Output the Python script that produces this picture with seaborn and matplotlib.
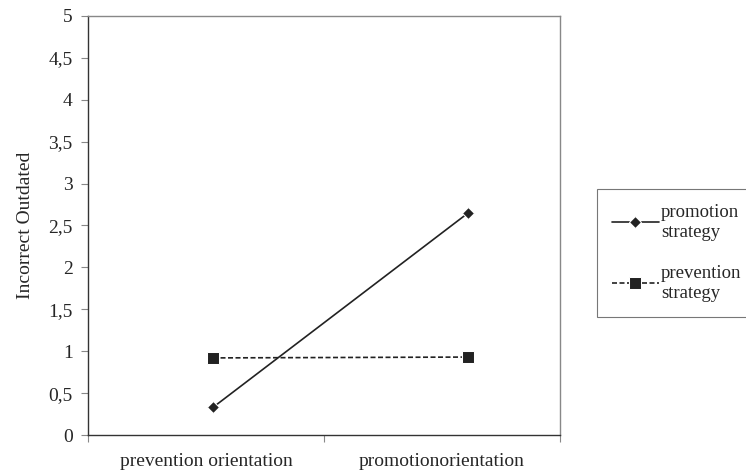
import matplotlib
matplotlib.use("Agg")
import matplotlib.pyplot as plt
import seaborn as sns
import pandas as pd
from matplotlib.ticker import FixedLocator

categories = ["prevention orientation", "promotionorientation"]
promotion_strategy = [0.33, 2.65]
prevention_strategy = [0.92, 0.93]
series_names = ["promotion\nstrategy", "prevention\nstrategy"]
yticks = [0, 0.5, 1, 1.5, 2, 2.5, 3, 3.5, 4, 4.5, 5]
ytick_labels = ["0", "0,5", "1", "1,5", "2", "2,5", "3", "3,5", "4", "4,5", "5"]

df = pd.DataFrame({
    "x": list(range(len(categories))) * 2,
    "y": promotion_strategy + prevention_strategy,
    "series": [series_names[0]] * 2 + [series_names[1]] * 2,
})

sns.set_style("white")
plt.rcParams["font.family"] = ["Liberation Serif", "DejaVu Serif"]

FS = 14

fig = plt.figure(figsize=(7.46, 4.73), dpi=100)
ax = fig.add_axes([88 / 746, 1 - 435 / 473, (560 - 88) / 746, (435 - 16) / 473])

sns.lineplot(data=df, x="x", y="y", hue="series", style="series",
             palette=["#222222", "#222222"],
             markers={series_names[0]: "D", series_names[1]: "s"},
             dashes={series_names[0]: "", series_names[1]: (3, 1.5)},
             markersize=7, linewidth=1.2, ax=ax, legend=True)
for line in ax.lines:
    if line.get_marker() == "D":
        line.set_markersize(6)
    else:
        line.set_markersize(8)

ax.set_xlim(-0.49, 1.36)
ax.set_ylim(0, 5)
ax.set_yticks(yticks)
ax.set_yticklabels(ytick_labels, fontsize=FS)
ax.tick_params(axis="y", direction="out", length=5, width=0.8, color="#888888", left=True, pad=6)

# category labels at centres, tick marks at boundaries
ax.set_xticks([(-0.49 + 0.435) / 2, (0.435 + 1.36) / 2])
ax.set_xticklabels(categories, fontsize=FS)
ax.tick_params(axis="x", which="major", length=0, pad=13)
ax.xaxis.set_minor_locator(FixedLocator([-0.49, 0.435, 1.36]))
ax.tick_params(axis="x", which="minor", direction="out", length=5, width=0.8, color="#888888", bottom=True)

ax.set_xlabel("")
ax.set_ylabel("Incorrect Outdated", fontsize=FS, labelpad=10)

for side in ["left", "bottom"]:
    ax.spines[side].set_color("#333333")
    ax.spines[side].set_linewidth(1.0)
for side in ["top", "right"]:
    ax.spines[side].set_color("#888888")
    ax.spines[side].set_linewidth(1.0)

handles, labels = ax.get_legend_handles_labels()
leg = ax.legend(handles, labels, loc="center left", bbox_to_anchor=(597 / 746, 1 - 253 / 473),
                bbox_transform=fig.transFigure, fontsize=13.5, frameon=True, fancybox=False,
                edgecolor="#555555", handlelength=2.5, labelspacing=1.3, borderpad=0.8,
                handletextpad=0.1, borderaxespad=0)
leg.get_frame().set_linewidth(0.8)

fig.savefig("out.png", dpi=100)
